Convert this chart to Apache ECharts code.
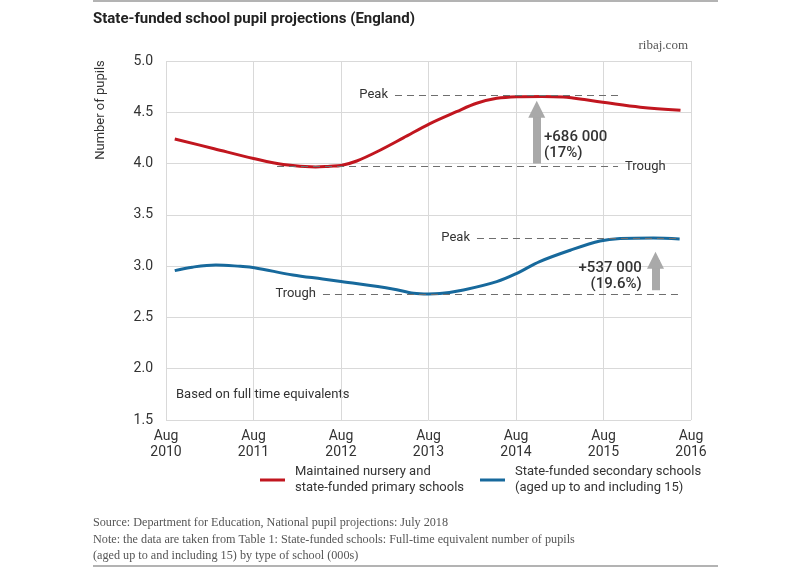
<!DOCTYPE html>
<html><head><meta charset="utf-8">
<script src="https://cdn.jsdelivr.net/npm/echarts@6/dist/echarts.min.js"></script>
<style>html,body{margin:0;padding:0;background:#fff}#c{width:800px;height:568px}</style>
</head><body><div id="c"></div>
<script>
// x values are years since Aug 2010
const tickYears = ['2010','2011','2012','2013','2014','2015','2016'];
const yTicks = [1.5, 2.0, 2.5, 3.0, 3.5, 4.0, 4.5, 5.0];

const primaryT = [0.1, 0.55, 1.0, 1.34, 1.71, 1.874, 2.0, 2.18, 2.446, 2.712, 3.017, 3.32, 3.55, 3.78, 4.01, 4.3, 4.54, 4.8, 5.04, 5.42, 5.88];
const primaryV = [4.24, 4.145, 4.05, 3.99, 3.967, 3.975, 3.982, 4.025, 4.13, 4.25, 4.39, 4.506, 4.588, 4.636, 4.652, 4.655, 4.648, 4.622, 4.592, 4.55, 4.52];

const secondaryT = [0.1, 0.3, 0.57, 0.85, 1.01, 1.45, 1.79, 2.0, 2.59, 2.83, 3.0, 3.13, 3.4, 3.78, 4.01, 4.27, 4.62, 4.96, 5.19, 5.57, 5.87];
const secondaryV = [2.956, 2.99, 3.012, 2.998, 2.985, 2.914, 2.875, 2.85, 2.778, 2.736, 2.729, 2.733, 2.768, 2.849, 2.93, 3.044, 3.155, 3.245, 3.27, 3.275, 3.265];

const primaryPeak = 4.67, primaryTrough = 3.97;
const secondaryPeak = 3.272, secondaryTrough = 2.729;
const primaryChange = ['+686 000', '(17%)'];
const secondaryChange = ['+537 000', '(19.6%)'];

const seriesNames = ['Maintained nursery and\nstate-funded primary schools', 'State-funded secondary schools\n(aged up to and including 15)'];
const RED = '#c1161f', BLUE = '#17699c';
const SANS = 'Roboto, "Noto Sans", sans-serif';
const SERIF = '"Liberation Serif", "DejaVu Serif", serif';

const dash = {type: [7, 5], color: '#6e6e6e', width: 1.2};
const arrowStyle = {type: 'solid', color: '#a9a9a9', width: 8};
const annLabel = {color: '#333', fontSize: 13, fontFamily: SANS, distance: 7};

function hLine(t1, t2, v, text, pos) {
  return [
    {coord: [t1, v], lineStyle: dash, label: Object.assign({show: true, formatter: text, position: pos}, annLabel)},
    {coord: [t2, v]}
  ];
}
function arrow(t, v1, v2) {
  return [
    {coord: [t, v1], symbol: 'none', lineStyle: arrowStyle, label: {show: false}},
    {coord: [t, v2], symbol: 'triangle', symbolSize: 17}
  ];
}
function changeLabel(t, v, lines, align) {
  return {
    coord: [t, v], symbol: 'rect', symbolSize: 1, itemStyle: {color: 'rgba(0,0,0,0)'},
    label: {show: true, position: 'inside', align: align, verticalAlign: 'middle', formatter: lines.join('\n'),
      color: '#333', fontSize: 15, fontWeight: 500, lineHeight: 16, fontFamily: SANS}
  };
}

const chart = echarts.init(document.getElementById('c'), null, {renderer: 'canvas'});
chart.setOption({
  animation: false,
  title: {text: 'State-funded school pupil projections (England)', left: 93, top: 12, padding: 0,
    textStyle: {fontSize: 15, fontWeight: 'bold', color: '#222', fontFamily: SANS}},
  grid: {left: 166, right: 109, top: 61, bottom: 148},
  legend: {
    left: 260, top: 456, padding: 0, itemGap: 16, itemWidth: 25, itemHeight: 3, icon: 'rect',
    selectedMode: false,
    textStyle: {fontSize: 13, color: '#333', fontFamily: SANS, lineHeight: 16, padding: [16, 0, 0, 5]},
    data: seriesNames
  },
  xAxis: {
    type: 'value', min: 0, max: 6, interval: 1,
    axisLine: {show: false}, axisTick: {show: false},
    splitLine: {show: true, lineStyle: {color: '#d9d9d9', width: 1}},
    axisLabel: {margin: 8, fontSize: 14, lineHeight: 16, color: '#333', fontFamily: SANS,
      formatter: v => 'Aug\n' + tickYears[Math.round(v)]}
  },
  yAxis: {
    type: 'value', min: yTicks[0], max: yTicks[yTicks.length - 1], interval: 0.5,
    axisLine: {show: false}, axisTick: {show: false},
    splitLine: {show: true, lineStyle: {color: '#d9d9d9', width: 1}},
    axisLabel: {margin: 13, fontSize: 14, color: '#333', fontFamily: SANS, formatter: v => v.toFixed(1)}
  },
  series: [
    {
      name: seriesNames[0], type: 'line', smooth: 0.35, showSymbol: false,
      data: primaryT.map((t, i) => [t, primaryV[i]]),
      lineStyle: {color: RED, width: 3}, itemStyle: {color: RED}, z: 3,
      markLine: {
        silent: true, symbol: 'none', animation: false,
        data: [
          hLine(2.617, 5.166, primaryPeak, 'Peak', 'start'),
          hLine(1.269, 5.166, primaryTrough, 'Trough', 'end'),
          arrow(4.237, 4.0, 4.53)
        ]
      },
      markPoint: {silent: true, data: [changeLabel(4.32, 4.178, primaryChange, 'left')]}
    },
    {
      name: seriesNames[1], type: 'line', smooth: 0.35, showSymbol: false,
      data: secondaryT.map((t, i) => [t, secondaryV[i]]),
      lineStyle: {color: BLUE, width: 3}, itemStyle: {color: BLUE}, z: 3,
      markLine: {
        silent: true, symbol: 'none', animation: false,
        data: [
          hLine(3.554, 5.874, secondaryPeak, 'Peak', 'start'),
          hLine(1.794, 5.874, secondaryTrough, 'Trough', 'start'),
          arrow(5.594, 2.765, 3.058)
        ]
      },
      markPoint: {silent: true, data: [changeLabel(5.437, 2.90, secondaryChange, 'right')]}
    }
  ],
  graphic: [
    {type: 'line', shape: {x1: 93, y1: 1, x2: 718, y2: 1}, style: {stroke: '#9a9a9a', lineWidth: 1.5}},
    {type: 'line', shape: {x1: 93, y1: 566, x2: 718, y2: 566}, style: {stroke: '#9a9a9a', lineWidth: 1.5}},
    {type: 'text', x: 688, y: 46, style: {text: 'ribaj.com', align: 'right', verticalAlign: 'middle',
      font: '13px ' + SERIF, fill: '#555'}},
    {type: 'text', x: 101, y: 110, rotation: Math.PI / 2, style: {text: 'Number of pupils', align: 'center',
      verticalAlign: 'middle', font: '13px ' + SANS, fill: '#333'}},
    {type: 'text', x: 176, y: 395, style: {text: 'Based on full time equivalents', align: 'left',
      verticalAlign: 'middle', font: '13px ' + SANS, fill: '#333'}},
    {type: 'text', x: 93, y: 523, style: {text: 'Source: Department for Education, National pupil projections: July 2018',
      verticalAlign: 'middle', font: '12.2px ' + SERIF, fill: '#555'}},
    {type: 'text', x: 93, y: 540, style: {text: 'Note: the data are taken from Table 1: State-funded schools: Full-time equivalent number of pupils',
      verticalAlign: 'middle', font: '12.2px ' + SERIF, fill: '#555'}},
    {type: 'text', x: 93, y: 556, style: {text: '(aged up to and including 15) by type of school (000s)',
      verticalAlign: 'middle', font: '12.2px ' + SERIF, fill: '#555'}}
  ]
});
</script></body></html>
